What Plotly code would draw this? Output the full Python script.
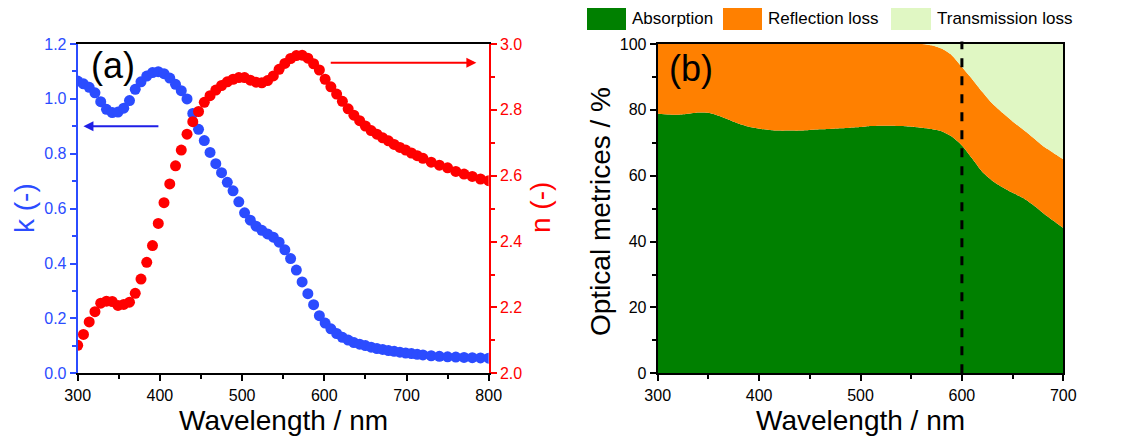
import plotly.graph_objects as go

# ---------------- Panel (a) data ----------------
wavelength_a = [300, 307, 314, 321, 328, 335, 342, 349, 356, 363, 370, 377, 384, 391, 398,
                405, 412, 419, 426, 433, 440, 447, 454, 461, 468, 475, 482, 489, 496, 503,
                510, 517, 524, 531, 538, 545, 552, 559, 566, 573, 580, 587, 594, 601, 608,
                615, 622, 629, 636, 643, 650, 657, 664, 671, 678, 685, 692, 699, 706, 713,
                720, 730, 740, 750, 760, 770, 780, 790, 800]
k_values = [1.065, 1.055, 1.042, 1.022, 0.990, 0.962, 0.950, 0.952, 0.966, 0.994, 1.035, 1.062,
            1.083, 1.096, 1.099, 1.092, 1.076, 1.053, 1.030, 1.000, 0.947, 0.889, 0.848, 0.805,
            0.764, 0.731, 0.696, 0.665, 0.625, 0.585, 0.558, 0.536, 0.521, 0.508, 0.496, 0.478,
            0.450, 0.418, 0.376, 0.333, 0.290, 0.250, 0.210, 0.183, 0.162, 0.145, 0.131, 0.121,
            0.112, 0.106, 0.101, 0.095, 0.090, 0.087, 0.083, 0.080, 0.077, 0.074, 0.072, 0.069,
            0.067, 0.064, 0.062, 0.060, 0.059, 0.058, 0.057, 0.056, 0.055]
n_values = [2.085, 2.118, 2.156, 2.187, 2.213, 2.219, 2.218, 2.206, 2.209, 2.216, 2.243, 2.286,
            2.337, 2.388, 2.455, 2.518, 2.575, 2.630, 2.678, 2.726, 2.764, 2.795, 2.823, 2.843,
            2.860, 2.874, 2.885, 2.893, 2.898, 2.898, 2.890, 2.884, 2.882, 2.889, 2.903, 2.923,
            2.941, 2.956, 2.965, 2.966, 2.957, 2.940, 2.921, 2.893, 2.870, 2.848, 2.826, 2.803,
            2.784, 2.767, 2.751, 2.737, 2.726, 2.715, 2.706, 2.695, 2.686, 2.678, 2.669, 2.661,
            2.653, 2.641, 2.632, 2.624, 2.613, 2.605, 2.598, 2.590, 2.585]

# ---------------- Panel (b) data ----------------
wavelength_b = [300, 310, 320, 330, 340, 350, 360, 370, 380, 390, 400, 410, 420, 430, 440,
                450, 460, 470, 480, 490, 500, 510, 520, 530, 540, 550, 560, 570, 580, 590,
                600, 610, 620, 630, 640, 650, 660, 670, 680, 690, 700]
absorption = [78.8, 78.6, 78.5, 78.8, 79.2, 79.1, 78.2, 77.0, 75.8, 74.9, 74.3, 73.9, 73.7, 73.7,
              73.7, 73.9, 74.1, 74.2, 74.4, 74.6, 74.8, 75.1, 75.2, 75.2, 75.1, 74.9, 74.6, 74.2,
              73.5, 71.9, 69.2, 65.3, 61.2, 58.5, 56.5, 54.8, 53.3, 51.2, 48.7, 46.4, 44.1]
absorption_plus_reflection = [100, 100, 100, 100, 100, 100, 100, 100, 100, 100, 100, 100, 100,
                              100, 100, 100, 100, 100, 100, 100, 100, 100, 100, 100, 100, 100,
                              100, 99.6, 98.6, 96.6, 93.0, 89.4, 85.5, 81.9, 79.1, 76.5, 74.1,
                              71.6, 69.0, 67.0, 65.0]
reflection = [t - a for t, a in zip(absorption_plus_reflection, absorption)]
transmission = [100 - t for t in absorption_plus_reflection]

legend_labels = ["Absorption", "Reflection loss", "Transmission loss"]
area_colors = ["#008000", "#ff8000", "#e0f7c3"]

BLUE = "#2b4cff"
RED = "#ff0000"
FONT = "Arial, Liberation Sans, sans-serif"

W, H = 1140, 442
def px(x):
    return x / W
def py(y):
    return 1 - y / H

fig = go.Figure()

fig.add_trace(go.Scatter(x=wavelength_a, y=k_values, mode="markers",
                         marker=dict(color=BLUE, size=11, line=dict(width=0)),
                         xaxis="x", yaxis="y", showlegend=False))
fig.add_trace(go.Scatter(x=wavelength_a, y=n_values, mode="markers",
                         marker=dict(color=RED, size=11, line=dict(width=0)),
                         xaxis="x", yaxis="y2", showlegend=False))

for vals, name, col in zip([absorption, reflection, transmission], legend_labels, area_colors):
    fig.add_trace(go.Scatter(x=wavelength_b, y=vals, name=name, mode="lines",
                             stackgroup="one", line=dict(width=0, shape="spline", smoothing=0.6),
                             fillcolor=col, xaxis="x2", yaxis="y3", showlegend=False))

dom_y = [py(373.3), py(44.0)]
tickfont = dict(family=FONT, size=16, color="black")

fig.update_layout(
    template="none",
    width=W, height=H, autosize=False, showlegend=False,
    margin=dict(l=0, r=0, t=0, b=0, pad=0),
    paper_bgcolor="white", plot_bgcolor="white",
    font=dict(family=FONT),
    xaxis=dict(domain=[px(77.7), px(488.7)], range=[300, 800], dtick=100, tick0=300,
               showline=True, linecolor="black", linewidth=2, mirror=True, automargin=False,
               ticks="outside", ticklen=6, tickwidth=2, tickcolor="black",
               minor=dict(ticks="outside", ticklen=4, tickwidth=2, dtick=50, tickcolor="black"),
               showgrid=False, zeroline=False, tickfont=tickfont, anchor="y"),
    yaxis=dict(domain=dom_y, range=[0, 1.2], dtick=0.2, tickformat=".1f", automargin=False,
               showline=True, linecolor=BLUE, linewidth=2,
               ticks="outside", ticklen=6, tickwidth=2, tickcolor=BLUE,
               minor=dict(ticks="outside", ticklen=4, tickwidth=2, dtick=0.1, tickcolor=BLUE),
               showgrid=False, zeroline=False,
               tickfont=dict(family=FONT, size=16, color=BLUE), anchor="x"),
    yaxis2=dict(domain=dom_y, range=[2.0, 3.0], dtick=0.2, tickformat=".1f", automargin=False,
                overlaying="y", side="right", anchor="x",
                showline=True, linecolor=RED, linewidth=2,
                ticks="outside", ticklen=6, tickwidth=2, tickcolor=RED,
                minor=dict(ticks="outside", ticklen=4, tickwidth=2, dtick=0.1, tickcolor=RED),
                showgrid=False, zeroline=False,
                tickfont=dict(family=FONT, size=16, color=RED)),
    xaxis2=dict(domain=[px(657.7), px(1063.3)], range=[300, 700], dtick=100, tick0=300,
                showline=True, linecolor="black", linewidth=2, mirror=True, automargin=False,
                ticks="outside", ticklen=6, tickwidth=2, tickcolor="black",
                minor=dict(ticks="outside", ticklen=4, tickwidth=2, dtick=50, tickcolor="black"),
                showgrid=False, zeroline=False, tickfont=tickfont, anchor="y3"),
    yaxis3=dict(domain=dom_y, range=[0, 100], dtick=20, automargin=False,
                showline=True, linecolor="black", linewidth=2, mirror=True,
                ticks="outside", ticklen=6, tickwidth=2, tickcolor="black",
                minor=dict(ticks="outside", ticklen=4, tickwidth=2, dtick=10, tickcolor="black"),
                showgrid=False, zeroline=False, tickfont=tickfont, anchor="x2"),
)

# dashed line at 600 nm
fig.add_shape(type="line", xref="x2", yref="paper", x0=600, x1=600,
              y0=dom_y[0], y1=py(41.5), line=dict(color="black", width=3, dash="dash"))

annotations = []
# arrows
annotations.append(dict(x=307, y=0.9, ax=400, ay=0.9, xref="x", yref="y", axref="x", ayref="y",
                        showarrow=True, arrowhead=2, arrowsize=1, arrowwidth=2, arrowcolor="#1f1fe6",
                        text=""))
annotations.append(dict(x=785, y=2.943, ax=606, ay=2.943, xref="x", yref="y2", axref="x", ayref="y2",
                        showarrow=True, arrowhead=2, arrowsize=1, arrowwidth=2, arrowcolor=RED,
                        text=""))

def label(x, y, text, size, color="black", angle=0, xanchor="center"):
    return dict(x=px(x), y=py(y), xref="paper", yref="paper", text=text, textangle=angle,
                xanchor=xanchor, yanchor="middle", showarrow=False,
                font=dict(family=FONT, size=size, color=color))

# panel labels
annotations.append(label(113, 65, "(a)", 36))
annotations.append(label(691, 68, "(b)", 36))
# axis titles
annotations.append(label(283, 420, "Wavelength / nm", 28))
annotations.append(label(860, 420, "Wavelength / nm", 28))
annotations.append(label(24, 208, "k (-)", 28, BLUE, -90))
annotations.append(label(540, 208, "n (-)", 28, RED, -90))
annotations.append(label(600, 212, "Optical metrices / %", 28, "black", -90))

# custom legend
legend_swatches = [(587, 626), (723, 762), (891, 931)]
for (x0, x1), lab, col in zip(legend_swatches, legend_labels, area_colors):
    fig.add_shape(type="rect", xref="paper", yref="paper", x0=px(x0), x1=px(x1),
                  y0=py(30), y1=py(8), fillcolor=col, line=dict(width=0))
    annotations.append(label(x1 + 4, 19, lab, 17, xanchor="left"))

fig.update_layout(annotations=annotations)

fig.write_html("out.html")
